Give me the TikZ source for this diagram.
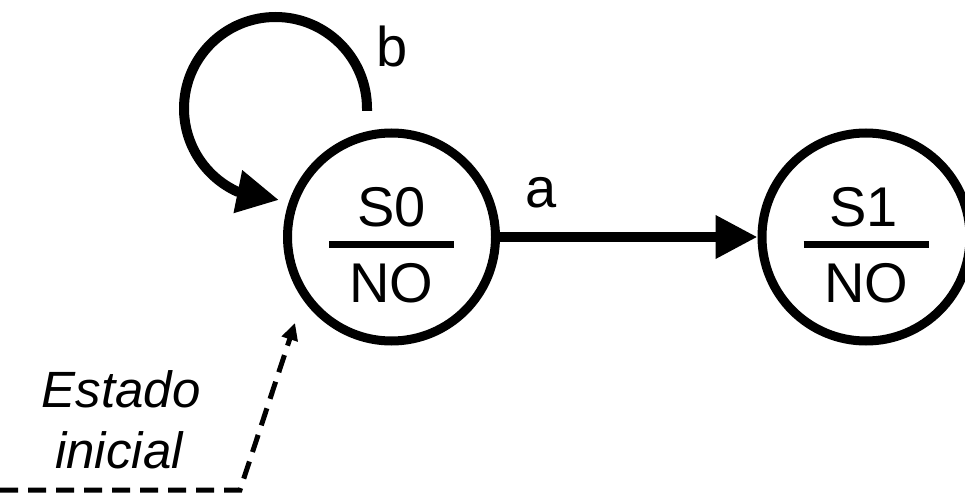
\documentclass[tikz,border=0pt]{standalone}
\usepackage{fontspec}
\setmainfont{Liberation Sans}
\usetikzlibrary{arrows.meta}
\begin{document}
\begin{tikzpicture}[x=1pt,y=1pt,
  state/.style={circle,draw,line width=9pt,minimum size=208pt,inner sep=0pt},
  lbl/.style={font=\fontsize{56}{60}\selectfont,inner sep=0pt,anchor=base},
  note/.style={font=\fontsize{51}{60}\selectfont\itshape,inner sep=0pt,anchor=base},
  conn/.style={line width=10pt,-{Triangle[length=42pt,width=41pt]}},
  sep/.style={line width=7pt},
  hint/.style={line width=5pt,dash pattern=on 18pt off 10pt,-{Triangle[length=17pt,width=16pt]}}]
\useasboundingbox (0,0) rectangle (965,493);
\node[state] (s0) at (391.5,256) {};
\node[state] (s1) at (866,256) {};
\node[lbl] (s0t) at ([yshift=10pt]s0.center) {S0};
\node[lbl] (s0b) at ([yshift=-65pt]s0.center) {NO};
\draw[sep] ([xshift=-62.5pt,yshift=-8pt]s0.center) -- ([xshift=62.5pt,yshift=-8pt]s0.center);
\node[lbl] (s1t) at ([xshift=-2.5pt,yshift=10pt]s1.center) {S1};
\node[lbl] (s1b) at ([yshift=-65pt]s1.center) {NO};
\draw[sep] ([xshift=-62.5pt,yshift=-8pt]s1.center) -- ([xshift=62.5pt,yshift=-8pt]s1.center);
\draw[conn] (s0) -- (s1);
\node[lbl] (la) at (541,285) {a};
\node[lbl] (lb) at (392,426) {b};
\coordinate (bs) at (367,382);
\coordinate (bt) at (279,293);
\draw[conn] (bs) -- ++(0,2.5) arc[start angle=0,end angle=245,radius=91.5] -- (bt);
\node[note] (est1) at (121,86) {Estado};
\node[note] (est2) at (119,25) {inicial};
\coordinate (d0) at (0,3);
\coordinate (d1) at (240,3);
\coordinate (dt) at (295,170);
\draw[hint] (d0) -- (d1) -- (dt);
\end{tikzpicture}
\end{document}
